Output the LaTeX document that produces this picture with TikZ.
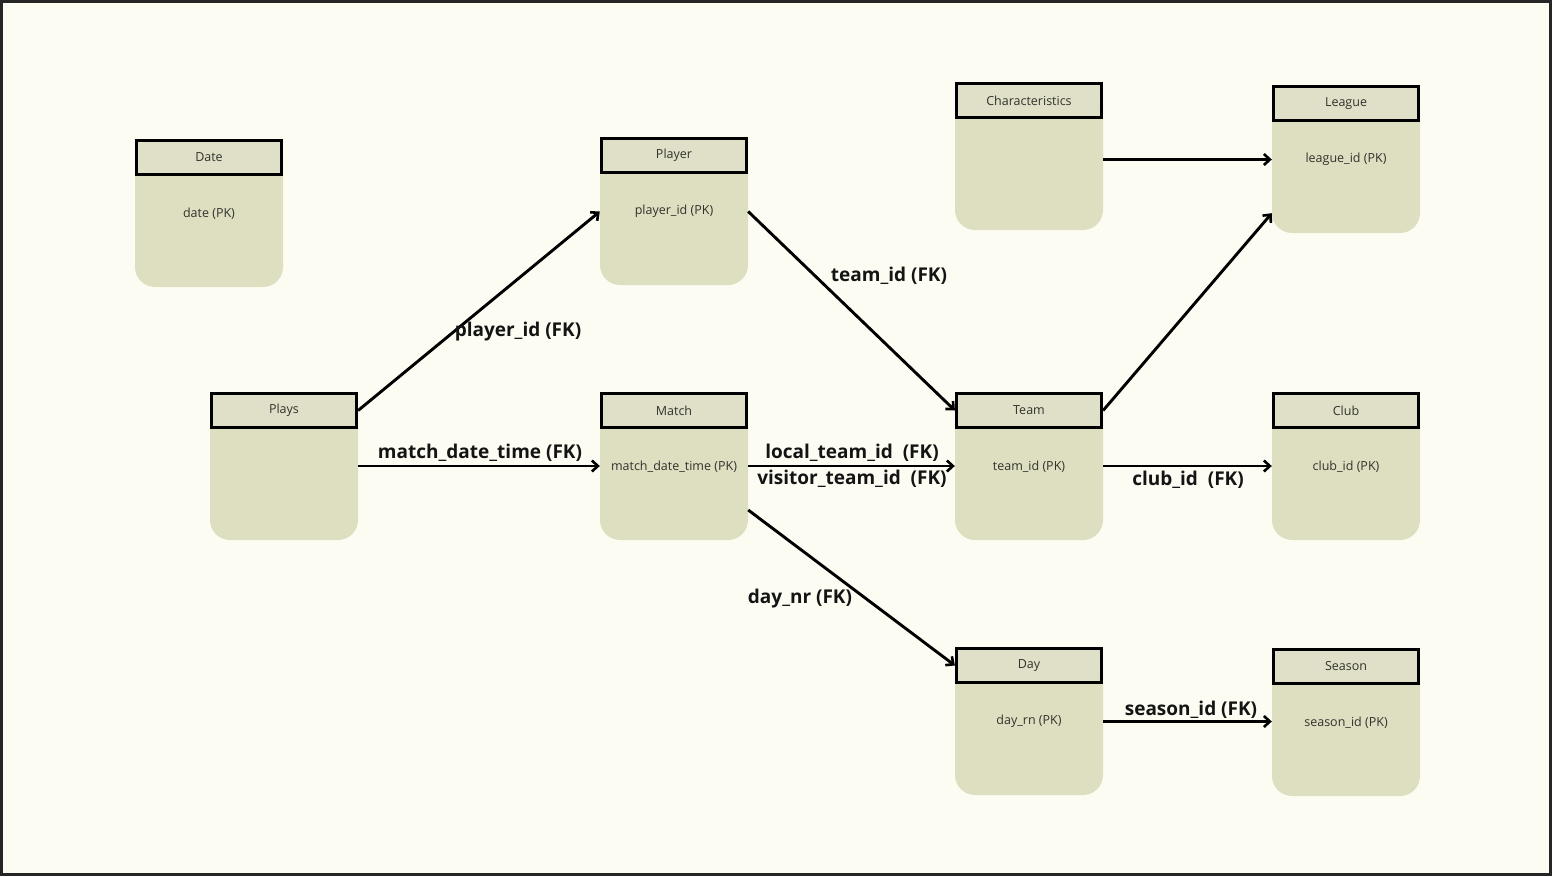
\documentclass[tikz,border=0pt]{standalone}
\usepackage{fontspec}
\setmainfont{Open Sans}
\usetikzlibrary{arrows.meta,calc}

\definecolor{paper}{RGB}{252,252,242}
\definecolor{tablefill}{RGB}{222,222,193}
\definecolor{headfill}{RGB}{224,224,200}
\definecolor{tabletext}{RGB}{50,50,45}

\tikzset{
  bodybox/.style={fill=tablefill, rounded corners=20pt, minimum width=148pt,
    minimum height=148pt, inner sep=0pt},
  headbox/.style={fill=headfill, draw=black, line width=3.2pt, minimum width=145pt,
    minimum height=34pt, inner sep=0pt, font=\fontsize{12.5}{14}\selectfont,
    text=tabletext},
  fieldtext/.style={font=\fontsize{12.5}{14}\selectfont, text=tabletext, inner sep=0pt},
  fk/.style={draw=black, line width=2.9pt, -{Straight Barb[length=6pt,width=11pt,line width=2.6pt]}},
  fklabel/.style={font=\fontsize{19}{22}\selectfont\bfseries, text=black!92, inner sep=0pt}
}

% one table: body with rounded bottom, framed header, key field
\newcommand{\dbtable}[5]{%
  \node[bodybox] (#1-b) at (#2+74,#3+74) {};
  \node[headbox] (#1-h) at (#2+74,#3+18.5) {#4};
  \node[fieldtext] (#1-f) at (#2+74,#3+74.5) {#5};
}

\begin{document}
\begin{tikzpicture}[x=1pt,y=-1pt]
  \fill[paper] (0,0) rectangle (1552,876);
  \useasboundingbox (0,0) rectangle (1552,876);
  \draw[black!85, line width=3pt] (1.5,1.5) rectangle (1550.5,874.5);

  \dbtable{date}{135}{139}{Date}{date (PK)}
  \dbtable{player}{600}{137}{Player}{player\_id (PK)}
  \dbtable{char}{955}{82}{Characteristics}{}
  \dbtable{league}{1272}{85}{League}{league\_id (PK)}
  \dbtable{plays}{210}{392}{Plays}{}
  \dbtable{match}{600}{392}{Match}{match\_date\_time (PK)}
  \dbtable{team}{955}{392}{Team}{team\_id (PK)}
  \dbtable{club}{1272}{392}{Club}{club\_id (PK)}
  \dbtable{day}{955}{647}{Day}{day\_rn (PK)}
  \dbtable{season}{1272}{648}{Season}{season\_id (PK)}

  % foreign key references
  \draw[fk] (plays-h.east) -- (player-b.west |- player-f);
  \draw[fk] (plays-b.east) -- (match-b.west);
  \draw[fk] (player-b.east |- player-f) -- (team-h.west);
  \draw[fk] (match-b.east) -- (team-b.west);
  \draw[fk] ($(match-b.east)+(0,-44pt)$) -- (day-h.west);
  \draw[fk] (team-h.east) -- ($(league-b.south west)+(0,20pt)$);
  \draw[fk] (char-b.east |- league-f) -- (league-b.west |- league-f);
  \draw[fk] (team-b.east) -- (club-b.west);
  \draw[fk] (day-b.east |- day-f) -- (season-b.west |- day-f);

  % reference labels
  \node[fklabel] (l1) at (518,332) {player\_id (FK)};
  \node[fklabel] (l2) at (480,453) {match\_date\_time (FK)};
  \node[fklabel] (l3) at (889,276) {team\_id (FK)};
  \node[fklabel] (l4) at (852,453) {local\_team\_id\ \ (FK)};
  \node[fklabel] (l5) at (852,479) {visitor\_team\_id\ \ (FK)};
  \node[fklabel] (l6) at (800,599) {day\_nr (FK)};
  \node[fklabel] (l7) at (1188,480) {club\_id\ \ (FK)};
  \node[fklabel] (l8) at (1191,710) {season\_id (FK)};
\end{tikzpicture}
\end{document}
